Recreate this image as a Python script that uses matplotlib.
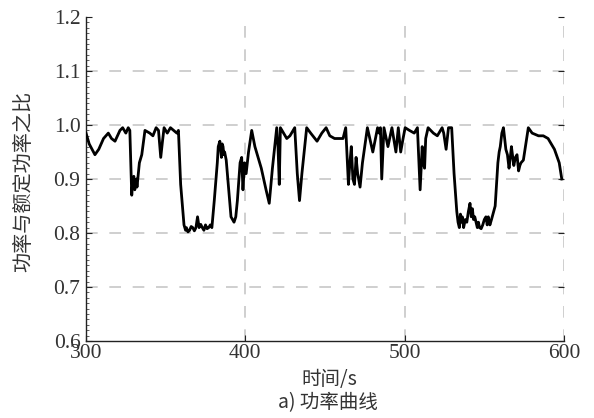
"""
功率曲线: 功率与额定功率之比 vs 时间 (300~600 s)
"""
import matplotlib
matplotlib.use("Agg")
import matplotlib.pyplot as plt
from matplotlib.ticker import MultipleLocator

CJK = ["Noto Sans CJK SC", "DejaVu Sans"]
SERIF = ["Liberation Serif", "DejaVu Serif"]

# ── 데이터: 시간(s) / 功率与额定功率之比 ──
time_s = [
    300, 302, 305.6, 308, 311, 314, 316, 318.2, 321.3, 323, 325, 326.5, 327.5,
    328.7, 329.3, 330, 330.6, 331, 331.6, 332, 332.8, 333.5, 335, 337, 340,
    342, 344, 345.5, 346.9, 348, 349, 351, 353, 355, 357, 358, 359.4, 361.5,
    362.5, 363, 364, 365, 366, 367, 368, 369, 370, 371, 372, 373, 374, 375,
    376, 377, 378, 379, 380.5, 382.4, 383, 384, 385, 385.5, 386, 386.5, 387,
    388, 389.3, 391, 392.9, 394, 395, 396.7, 397.7, 398.5, 399.5, 400.5, 402,
    404, 406, 410, 413, 415, 417, 419.7, 420.5, 421.3, 422, 424, 426, 428,
    431, 432.6, 434, 435.5, 438.5, 441, 445, 448, 450.7, 453, 456, 461.3, 463,
    464.7, 465.5, 466.5, 467.5, 468.5, 469.5, 470.5, 472, 473.5, 476.6, 478.5,
    480, 483, 484, 484.8, 485.6, 487, 489.5, 492, 494.5, 496, 497.5, 499,
    500.3, 503, 506, 508, 509.7, 511, 511.6, 512.5, 513.2, 514.7, 518, 520.5,
    523.5, 524.5, 526, 527.5, 529.5, 531, 532.7, 533.5, 534.3, 535, 535.5,
    536.2, 537, 538, 539, 540, 541, 541.8, 542.5, 543.2, 544, 545.6, 546.3,
    547, 548, 549, 550, 551, 551.8, 552.5, 553.5, 554.5, 556.8, 558.5, 559.3,
    560, 561, 562, 563.5, 564.5, 565.5, 566.3, 567, 568.5, 569.5, 570.5,
    571.5, 572.3, 573, 574.5, 577.6, 580, 584, 587, 590, 594, 597, 598.6,
]
power_ratio = [
    0.985, 0.965, 0.945, 0.955, 0.975, 0.985, 0.975, 0.97, 0.99, 0.995, 0.985,
    0.995, 0.99, 0.87, 0.895, 0.905, 0.88, 0.89, 0.9, 0.885, 0.91, 0.93,
    0.945, 0.99, 0.985, 0.98, 0.995, 0.99, 0.94, 0.97, 0.995, 0.985, 0.995,
    0.99, 0.985, 0.99, 0.89, 0.815, 0.805, 0.81, 0.802, 0.805, 0.812, 0.81,
    0.804, 0.81, 0.83, 0.81, 0.816, 0.81, 0.805, 0.815, 0.808, 0.81, 0.815,
    0.81, 0.86, 0.93, 0.96, 0.97, 0.94, 0.965, 0.96, 0.945, 0.95, 0.935, 0.89,
    0.83, 0.82, 0.83, 0.86, 0.93, 0.94, 0.88, 0.93, 0.91, 0.95, 0.99, 0.96,
    0.92, 0.88, 0.855, 0.92, 0.995, 0.96, 0.89, 0.995, 0.985, 0.975, 0.98,
    0.995, 0.91, 0.86, 0.91, 0.995, 0.985, 0.97, 0.985, 0.995, 0.98, 0.975,
    0.975, 0.995, 0.89, 0.925, 0.96, 0.9, 0.89, 0.94, 0.91, 0.885, 0.93,
    0.995, 0.97, 0.95, 0.995, 0.985, 0.995, 0.90, 0.995, 0.96, 0.995, 0.95,
    0.995, 0.95, 0.975, 0.995, 0.99, 0.985, 0.995, 0.88, 0.96, 0.93, 0.92,
    0.975, 0.995, 0.985, 0.98, 0.995, 0.985, 0.955, 0.995, 0.995, 0.91, 0.84,
    0.82, 0.81, 0.835, 0.82, 0.83, 0.81, 0.825, 0.82, 0.84, 0.855, 0.83,
    0.845, 0.825, 0.83, 0.81, 0.82, 0.81, 0.808, 0.815, 0.825, 0.83, 0.815,
    0.83, 0.815, 0.825, 0.85, 0.93, 0.95, 0.96, 0.985, 0.995, 0.955, 0.945,
    0.92, 0.94, 0.96, 0.925, 0.94, 0.945, 0.915, 0.925, 0.93, 0.935, 0.995,
    0.985, 0.98, 0.98, 0.975, 0.955, 0.93, 0.90,
]

x_ticks = [300, 400, 500, 600]
y_ticks = [0.6, 0.7, 0.8, 0.9, 1.0, 1.1, 1.2]

fig = plt.figure(figsize=(5.94, 4.18), dpi=100)
ax = fig.add_axes([0.1448, 0.1842, 0.8047, 0.7751])

# 격자: 연회색 점선 (1.2 위쪽과 300 왼쪽에는 없음)
grid_kw = dict(color="#cfcfcf", ls=(0, (6, 6)), lw=1.4, zorder=0)
for yv in y_ticks[1:-1]:
    ax.axhline(yv, **grid_kw)
for xv in x_ticks[1:]:
    ax.axvline(xv, **grid_kw)

ax.plot(time_s, power_ratio, color="black", lw=2.0, zorder=3)

ax.set_xlim(300, 600)
ax.set_ylim(0.6, 1.2)
ax.set_xticks(x_ticks)
ax.set_yticks(y_ticks)
ax.set_yticklabels([f"{v:.1f}" for v in y_ticks])
ax.yaxis.set_minor_locator(MultipleLocator(0.01))

for s in ("top", "right"):
    ax.spines[s].set_visible(False)
for s in ("left", "bottom"):
    ax.spines[s].set_linewidth(1.0)
    ax.spines[s].set_color("#222222")

ax.tick_params(axis="both", which="major", direction="in", length=4,
               width=0.8, colors="#222222", labelsize=15.5, right=True)
ax.tick_params(axis="y", which="minor", direction="in", length=2,
               width=0.6, colors="#444444")
ax.tick_params(axis="x", pad=2)
ax.tick_params(axis="y", pad=4)
for lab in ax.get_xticklabels() + ax.get_yticklabels():
    lab.set_family(SERIF)
    lab.set_color("#333333")

fig.text(0.040, 0.566, "功率与额定功率之比", rotation=90, ha="center",
         va="center", family=CJK, fontsize=14.5, color="#333333")
fig.text(0.555, 0.091, "时间/s", ha="center", va="center", family=CJK,
         fontsize=14, color="#333333")
fig.text(0.552, 0.036, "a) 功率曲线", ha="center", va="center", family=CJK,
         fontsize=14, color="#333333")

fig.savefig("out.png", dpi=100)
